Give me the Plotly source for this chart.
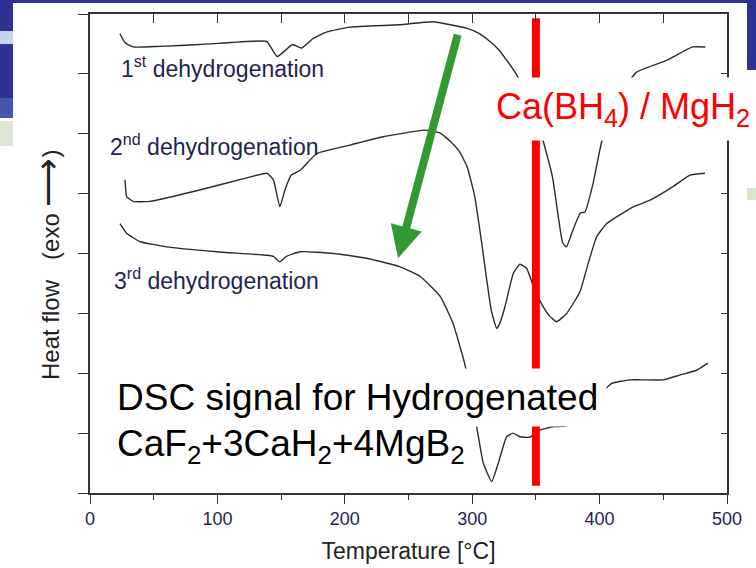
import plotly.graph_objects as go

# ---------------- data ----------------
temp_1 = [23.5, 27.5, 34, 55, 86, 133, 139, 147, 159, 166, 175, 186, 204, 243, 269,
          296, 305, 314, 321, 327, 335, 345, 355, 363, 371, 374, 379, 385, 388.5,
          395, 402, 416, 429, 453, 473, 483]
heat_1 = [7.67, 7.52, 7.45, 7.46, 7.49, 7.55, 7.54, 7.29, 7.49, 7.43, 7.59, 7.70, 7.78,
          7.82, 7.87, 7.76, 7.68, 7.54, 7.40, 7.23, 6.98, 6.48, 5.93, 5.28, 4.18, 4.11,
          4.39, 4.68, 4.69, 5.18, 5.90, 6.65, 7.03, 7.23, 7.45, 7.45]

temp_2 = [27.5, 28.8, 34, 47, 86, 126, 139, 144, 149, 153, 158, 165, 178, 204, 230,
          262, 270, 275, 283, 290, 296, 302, 307.5, 311.4, 315, 319.2, 322, 325.7,
          332.3, 337.5, 342.8, 348, 355.8, 361, 366.3, 374.2, 384.6, 391.1, 397.7,
          405.6, 426.5, 439.6, 457.9, 470.9, 482.7]
heat_2 = [5.23, 4.95, 4.87, 4.87, 5.06, 5.28, 5.34, 5.23, 4.78, 5.06, 5.31, 5.39, 5.67,
          5.81, 5.95, 6.06, 6.04, 6.01, 5.87, 5.70, 5.45, 4.95, 4.17, 3.56, 3.05, 2.75,
          2.85, 3.11, 3.67, 3.82, 3.75, 3.45, 3.11, 2.95, 2.86, 3.00, 3.36, 3.84, 4.28,
          4.50, 4.78, 4.89, 5.12, 5.31, 5.34]

temp_3 = [23.5, 28.8, 39, 60, 99.5, 139, 144, 149, 154, 165, 191, 217, 243, 259, 275,
          285, 294, 299, 303.5, 308.7, 315.3, 320.5, 327, 332, 337.5, 345, 353, 364,
          374, 392, 409.5, 424, 450, 463, 476, 485]
heat_3 = [4.50, 4.34, 4.20, 4.11, 4.03, 3.97, 3.95, 3.86, 3.95, 4.03, 4.00, 3.92, 3.78,
          3.62, 3.28, 2.83, 2.17, 1.64, 1.11, 0.50, 0.19, 0.50, 0.94, 1.00, 0.94, 0.93,
          1.05, 1.11, 1.12, 1.47, 1.83, 1.89, 1.89, 1.97, 2.05, 2.17]

marker_temp = [350, 350]          # Ca(BH4) / MgH2 reference temperature
marker_heat = [0.12, 7.93]

x_range = [0, 500]
y_range = [0, 8]

labels = ["1<sup>st</sup> dehydrogenation",
          "2<sup>nd</sup> dehydrogenation",
          "3<sup>rd</sup> dehydrogenation"]
label_x = [23.0, 14.1, 17.3]
label_y = [7.12, 5.81, 3.57]

# ---------------- layout geometry ----------------
W, H = 756, 568
ML, MR, MT, MB = 90, 29, 14, 75
PW, PH = W - ML - MR, H - MT - MB


def px(p):
    return (p - ML) / PW


def py(p):
    return (H - MB - p) / PH


FONT = "Arial, Liberation Sans, sans-serif"
INK = "#333333"
BLUE = "#2e3192"

fig = go.Figure()
for t, h in [(temp_1, heat_1), (temp_2, heat_2), (temp_3, heat_3)]:
    fig.add_trace(go.Scatter(x=t, y=h, mode="lines",
                             line=dict(color="#2b2b2b", width=1.4, shape="spline", smoothing=0.4),
                             hoverinfo="skip", showlegend=False))

fig.add_trace(go.Scatter(x=marker_temp, y=marker_heat, mode="lines", xaxis="x2", yaxis="y2",
                         line=dict(color="#ff0000", width=8), hoverinfo="skip", showlegend=False))

# background decorations of the slide
deco = [
    (0, 0, W, 3, BLUE),
    (0, 0, 13, 118, BLUE),
    (0, 31, 13, 44, "#c5d5ee"),
    (0, 98, 13, 118, "#4557ad"),
    (0, 121, 13, 146, "#dde6d6"),
    (747, 0, W, 70, BLUE),
    (747, 188, W, 200, "#d5e6cc"),
]
shapes = []
for x0, y0, x1, y1, c in deco:
    shapes.append(dict(type="rect", xref="paper", yref="paper", x0=px(x0), x1=px(x1),
                       y0=py(y1), y1=py(y0), fillcolor=c, line=dict(width=0), layer="below"))

ann = []
for t, x, y in zip(labels, label_x, label_y):
    ann.append(dict(text=t, x=x, y=y, xref="x", yref="y", xanchor="left", yanchor="middle",
                    showarrow=False, font=dict(family=FONT, size=23, color="#1f2450")))

ann.append(dict(text="Ca(BH<sub>4</sub>) / MgH<sub>2</sub>", x=px(487), y=py(109), xref="paper",
                yref="paper", xanchor="left", yanchor="middle", showarrow=False,
                font=dict(family=FONT, size=36, color="#ff0000"), bgcolor="white", borderpad=8))
ann.append(dict(text="CaF<sub>2</sub>+3CaH<sub>2</sub>+4MgB<sub>2</sub>", x=px(112), y=py(446),
                xref="paper", yref="paper", xanchor="left", yanchor="middle", showarrow=False,
                font=dict(family=FONT, size=37, color="black"), bgcolor="white", borderpad=4))
ann.append(dict(text="DSC signal for Hydrogenated", x=px(108), y=py(397), xref="paper",
                yref="paper", xanchor="left", yanchor="middle", showarrow=False,
                font=dict(family=FONT, size=37, color="black"), bgcolor="white", borderpad=8))
# green arrow
ann.append(dict(text="", x=241.8, y=3.92, xref="x", yref="y", ax=288.9, ay=7.68,
                axref="x", ayref="y", showarrow=True, arrowhead=2, arrowsize=0.8,
                arrowwidth=8, arrowcolor="#339933", standoff=0))
# y title
ann.append(dict(text="Heat flow\u00a0\u00a0\u00a0(exo\u00a0<span style='font-size:34px'>\u27f6</span>)",
                x=px(47), y=py(265),
                xref="paper", yref="paper", xanchor="center", yanchor="middle", textangle=-90,
                showarrow=False, font=dict(family=FONT, size=24, color="#222222")))

axis_common = dict(showgrid=False, zeroline=False, showline=True, linecolor=INK, linewidth=1.6,
                   tickcolor=INK, tickwidth=1.4, automargin=False)

fig.update_layout(
    width=W, height=H, margin=dict(l=ML, r=MR, t=MT, b=MB, pad=0, autoexpand=False),
    paper_bgcolor="white", plot_bgcolor="white",
    shapes=shapes, annotations=ann,
    xaxis=dict(range=x_range, ticks="outside", ticklen=9, dtick=100, tick0=0,
               minor=dict(dtick=50, ticks="outside", ticklen=5, tickcolor=INK),
               tickfont=dict(family=FONT, size=18, color="#1f2450"),
               title=dict(text="Temperature [°C]", font=dict(family=FONT, size=23, color="#222222"),
                          standoff=14),
               **axis_common),
    yaxis=dict(range=y_range, ticks="outside", ticklen=10, dtick=1, tick0=0,
               showticklabels=False, **axis_common),
    xaxis2=dict(range=x_range, overlaying="x", side="top", anchor="y", ticks="inside",
                ticklen=9, dtick=50, tick0=0, showticklabels=False, **axis_common),
    yaxis2=dict(range=y_range, overlaying="y", side="right", anchor="x", ticks="inside",
                ticklen=6, dtick=1, tick0=0, showticklabels=False, **axis_common),
)

fig.write_html("out.html", config={"displayModeBar": False},
               post_script="document.body.style.margin='0px';document.body.style.overflow='hidden';")
